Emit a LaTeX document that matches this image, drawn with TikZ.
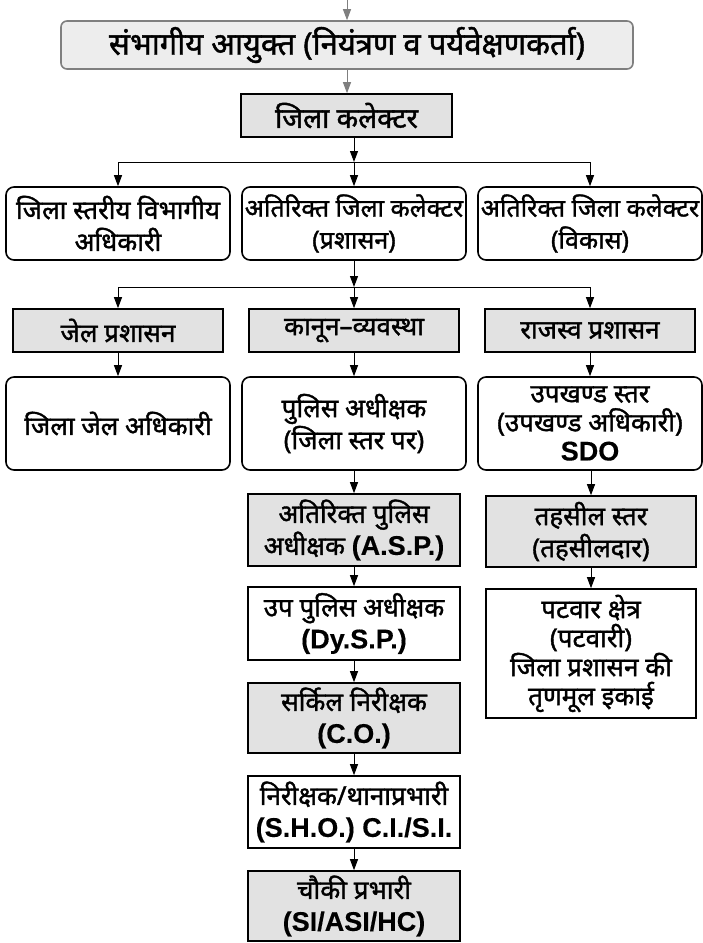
\documentclass[tikz,border=0pt]{standalone}
\usepackage{fontspec}
\setmainfont[Script=Devanagari, FakeBold=1.4]{Noto Sans}
\newfontfamily\latf[FakeBold=0.3]{Liberation Sans Bold}
\usetikzlibrary{arrows.meta}
\newcommand{\lt}[1]{{\latf\fontsize{27}{32}\selectfont #1}}
\newcommand{\fsz}[2]{\fontsize{#1}{#2}\selectfont}
\definecolor{boxgray}{HTML}{E2E2E2}
\definecolor{topgray}{HTML}{EDEDED}
\definecolor{linegray}{HTML}{7F7F7F}
\begin{document}
\begin{tikzpicture}[x=1pt,y=-1pt,
  base/.style={draw, line width=1.6pt, align=center, inner sep=0pt,
    font=\fsz{26}{32}},
  rbox/.style={base, rounded corners=8pt, fill=white},
  gbox/.style={base, fill=boxgray},
  wbox/.style={base, fill=white},
  topbox/.style={base, draw=linegray, rounded corners=6pt, fill=topgray},
  arr/.style={-{Triangle[length=11pt,width=8pt]}, line width=1pt},
  garr/.style={arr, draw=linegray, color=linegray},
  ln/.style={line width=1pt}]
\useasboundingbox (0,0) rectangle (703,943);
\fill[white] (0,0) rectangle (703,943);

\coordinate (src) at (347,0);
\node[topbox, minimum width=572pt, minimum height=48pt, font=\fsz{31}{36}] (top) at (347,45) {संभागीय आयुक्त (नियंत्रण व पर्यवेक्षणकर्ता)};
\node[gbox, minimum width=211pt, minimum height=43pt, font=\fsz{28}{32}] (coll) at (346.5,115.5) {जिला कलेक्टर};

\node[rbox, minimum width=224pt, minimum height=73pt] (a1) at (118,223.5) {जिला स्तरीय विभागीय\\अधिकारी};
\node[rbox, minimum width=224pt, minimum height=73pt, font=\fsz{25}{32}] (a2) at (354,223.5) {अतिरिक्त जिला कलेक्टर\\(प्रशासन)};
\node[rbox, minimum width=224pt, minimum height=73pt, font=\fsz{25}{32}] (a3) at (590,223.5) {अतिरिक्त जिला कलेक्टर\\(विकास)};

\node[gbox, minimum width=210pt, minimum height=43pt] (g1) at (118,330.5) {जेल प्रशासन};
\node[gbox, minimum width=210pt, minimum height=43pt] (g2) at (354,330.5) {कानून–व्यवस्था};
\node[gbox, minimum width=210pt, minimum height=43pt] (g3) at (590,330.5) {राजस्व प्रशासन};

\node[rbox, minimum width=224pt, minimum height=93pt] (b1) at (118,423.5) {जिला जेल अधिकारी};
\node[rbox, minimum width=224pt, minimum height=93pt] (b2) at (354,423.5) {पुलिस अधीक्षक\\(जिला स्तर पर)};
\node[rbox, minimum width=224pt, minimum height=93pt, font=\fsz{26}{29}] (b3) at (590,423.5) {उपखण्ड स्तर\\(उपखण्ड अधिकारी)\\\lt{SDO}};

\node[gbox, minimum width=212pt, minimum height=72pt] (asp) at (354,530) {अतिरिक्त पुलिस\\अधीक्षक \lt{(A.S.P.)}};
\node[wbox, minimum width=212pt, minimum height=73pt] (dysp) at (354,623.5) {उप पुलिस अधीक्षक\\\lt{(Dy.S.P.)}};
\node[gbox, minimum width=212pt, minimum height=70pt] (co) at (354,718) {सर्किल निरीक्षक\\\lt{(C.O.)}};
\node[wbox, minimum width=212pt, minimum height=72pt] (sho) at (354,812) {निरीक्षक/थानाप्रभारी\\\lt{(S.H.O.) C.I./S.I.}};
\node[gbox, minimum width=212pt, minimum height=70pt] (chauki) at (354,906) {चौकी प्रभारी\\\lt{(SI/ASI/HC)}};

\node[gbox, minimum width=210pt, minimum height=71pt] (tehsil) at (591,531.5) {तहसील स्तर\\(तहसीलदार)};
\node[wbox, minimum width=210pt, minimum height=129pt, font=\fsz{26}{29}] (patwar) at (591,653.5) {पटवार क्षेत्र\\(पटवारी)\\जिला प्रशासन की\\तृणमूल इकाई};

% connectors
\draw[garr] (src) -- (top.north);
\draw[garr] (top.south) -- (top.south |- coll.north);

\coordinate (s1) at (354,162);
\draw[arr] (a2.north |- coll.south) -- (s1);
\draw[ln] (a1.north |- s1) -- (a3.north |- s1);
\draw[arr] (a1.north |- s1) -- (a1.north);
\draw[arr] (s1) -- (a2.north);
\draw[arr] (a3.north |- s1) -- (a3.north);

\coordinate (s2) at (354,287);
\draw[arr] (a2.south) -- (s2);
\draw[ln] (g1.north |- s2) -- (g3.north |- s2);
\draw[arr] (g1.north |- s2) -- (g1.north);
\draw[arr] (s2) -- (g2.north);
\draw[arr] (g3.north |- s2) -- (g3.north);

\draw[arr] (g1) -- (b1);
\draw[arr] (g2) -- (b2);
\draw[arr] (g3) -- (b3);

\draw[arr] (b2) -- (asp);
\draw[arr] (asp) -- (dysp);
\draw[arr] (dysp) -- (co);
\draw[arr] (co) -- (sho);
\draw[arr] (sho) -- (chauki);

\draw[arr] (b3.south -| tehsil.north) -- (tehsil.north);
\draw[arr] (tehsil) -- (patwar);
\end{tikzpicture}
\end{document}
